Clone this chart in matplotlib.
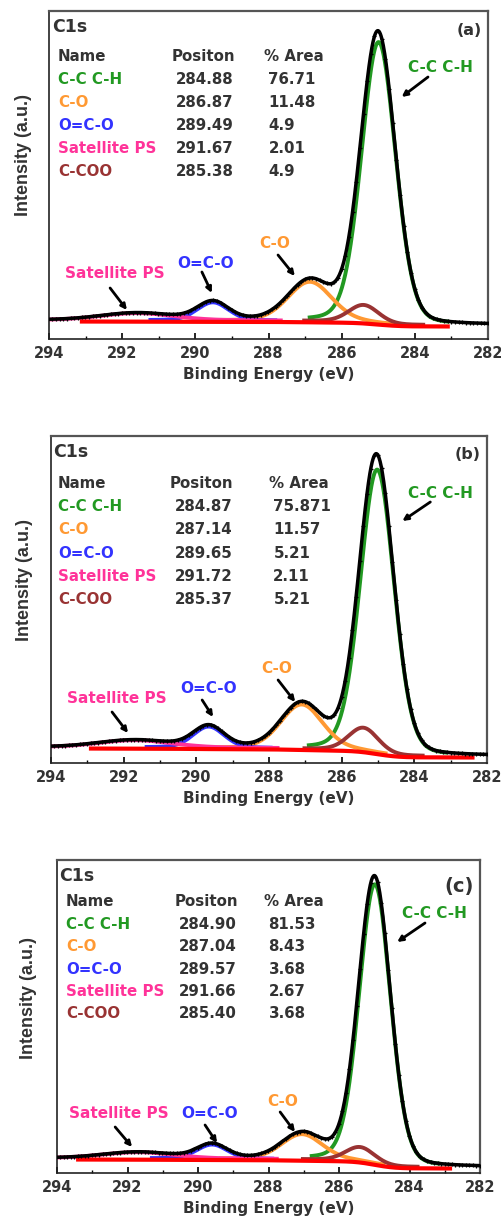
import numpy as np
import matplotlib
matplotlib.use("Agg")
import matplotlib.pyplot as plt
from matplotlib.ticker import MultipleLocator

# C1s XPS fits, three samples (a), (b), (c)

panel_tags = ["(a)", "(b)", "(c)"]
names = ["C-C C-H", "C-O", "O=C-O", "Satellite PS", "C-COO"]
name_colors = ["#229922", "#ff9933", "#3333ff", "#ff3399", "#993333"]

# table text as printed in each panel
tab_pos = [["284.88", "286.87", "289.49", "291.67", "285.38"],
           ["284.87", "287.14", "289.65", "291.72", "285.37"],
           ["284.90", "287.04", "289.57", "291.66", "285.40"]]
tab_area = [["76.71", "11.48", "4.9", "2.01", "4.9"],
            ["75.871", "11.57", "5.21", "2.11", "5.21"],
            ["81.53", "8.43", "3.68", "2.67", "3.68"]]

# fitted components: centre (eV), height, fwhm (eV)
centers = [[284.99, 286.87, 289.52, 291.6, 285.40],
           [285.02, 287.10, 289.66, 291.7, 285.40],
           [284.98, 287.05, 289.60, 291.7, 285.40]]
heights = [[281, 39, 18, 7, 17],
           [283, 44, 21, 7, 23],
           [279, 25, 14, 6, 14]]
fwhms = [[1.10, 1.40, 1.00, 2.3, 0.95],
         [1.10, 1.35, 1.00, 2.3, 0.95],
         [1.05, 1.35, 1.00, 2.3, 0.95]]

# shirley background ends (high BE side, low BE side) and drawn range
bg_high = [19, 16, 15]
bg_low = [14, 7, 6]
bg_range = [(293.1, 283.1), (292.9, 282.4), (293.4, 282.85)]

# annotation labels: (text x, text y, arrow tail x, y, arrow head x, y)
annots = [
    [(283.29, 271, 283.64, 262, 284.36, 242),
     (287.83, 96, 287.74, 84, 287.28, 63),
     (289.71, 75, 289.82, 67, 289.55, 46),
     (292.20, 65, 292.33, 51, 291.87, 29)],
    [(283.28, 270, 283.56, 261, 284.33, 242),
     (287.80, 95, 287.75, 83, 287.28, 61),
     (289.67, 75, 289.84, 63, 289.54, 46),
     (292.20, 65, 292.32, 51, 291.88, 30)],
    [(283.30, 260, 283.56, 250, 284.35, 231),
     (287.60, 71, 287.67, 61, 287.25, 41),
     (289.66, 60, 289.80, 48, 289.46, 30),
     (292.24, 60, 292.35, 46, 291.87, 26)],
]

# axes boxes in pixels: left, top, right, bottom
boxes = [(49, 11, 488, 339), (51, 436, 487, 763), (57, 860, 480, 1173)]
# table anchors in axes fraction: name x, pos x, area x, header y, row step
tab_xy = [(0.02, 0.28, 0.49, 0.86, 0.070),
          (0.016, 0.273, 0.50, 0.856, 0.0715),
          (0.021, 0.279, 0.49, 0.866, 0.0716)]
ylab_x = [-0.039, -0.041, -0.047]

W, H = 502, 1228
fig = plt.figure(figsize=(W / 100, H / 100), dpi=100)
plt.rcParams['font.family'] = ['DejaVu Sans']


def gl(x, c, h, w, eta=0.15):
    s = w / 2.3548
    g = np.exp(-(x - c) ** 2 / (2 * s * s))
    l = 1.0 / (1.0 + ((x - c) / (w / 2)) ** 2)
    return h * ((1 - eta) * g + eta * l)


x = np.linspace(282, 294, 1200)
dark = "#333333"

for i in range(3):
    l, t, r, b = boxes[i]
    ax = fig.add_axes([l / W, 1 - b / H, (r - l) / W, (b - t) / H])
    ymax = b - t

    comps = [gl(x, centers[i][k], heights[i][k], fwhms[i][k]) for k in range(5)]
    tot = np.sum(comps, axis=0)
    cum = np.cumsum(tot)
    bg = bg_low[i] + (bg_high[i] - bg_low[i]) * cum / cum[-1]
    data = bg + tot

    for k in range(5):
        m = comps[k] > 0.012 * heights[i][k]
        ax.plot(x[m], bg[m] + comps[k][m], color=name_colors[k], lw=2.8, zorder=2)
    ax.plot(x, data, color="black", lw=2.5, zorder=3)
    ax.plot(x[::10], data[::10], "+", color="black", ms=3.5, mew=0.9, zorder=3)
    lo, hi = bg_range[i][1], bg_range[i][0]
    m = (x >= lo) & (x <= hi)
    ax.plot(x[m], bg[m] - 1.5, color="#ff0000", lw=3, zorder=2.5)

    ax.set_xlim(294, 282)
    ax.set_ylim(0, ymax)
    ax.set_yticks([])
    ax.xaxis.set_major_locator(MultipleLocator(2))
    ax.xaxis.set_minor_locator(MultipleLocator(1))
    ax.tick_params(axis="x", which="major", direction="in", length=4, width=1.2,
                   labelsize=10.5, labelcolor=dark, pad=5)
    ax.tick_params(axis="x", which="minor", direction="in", length=2.5, width=1)
    for lab in ax.get_xticklabels():
        lab.set_fontweight("bold")
    for sp in ["top", "right"]:
        ax.spines[sp].set_color("#555555")
        ax.spines[sp].set_linewidth(1.6)
    for sp in ["left", "bottom"]:
        ax.spines[sp].set_color("#222222")
        ax.spines[sp].set_linewidth(1.2)

    ax.set_xlabel("Binding Energy (eV)", fontsize=11, fontweight="bold",
                  color=dark, labelpad=4)
    ax.set_ylabel("Intensity (a.u.)", fontsize=13, fontweight="bold",
                  family=["Liberation Sans"], color=dark)
    ax.yaxis.set_label_coords(ylab_x[i], 0.56)

    ax.text(0.006, 0.95, "C1s", transform=ax.transAxes, fontsize=12.5,
            fontweight="bold", color=dark, va="center", ha="left")
    tag_size = 14 if i == 2 else 11.5
    tag_y = 0.915 if i == 2 else 0.942
    ax.text(0.985, tag_y, panel_tags[i], transform=ax.transAxes, fontsize=tag_size,
            fontweight="bold", color=dark, va="center", ha="right")

    nx, px, axx, y0, dy = tab_xy[i]
    kw = dict(transform=ax.transAxes, fontsize=10.8, fontweight="bold", va="center")
    ax.text(nx, y0, "Name", color=dark, **kw)
    ax.text(px, y0, "Positon", color=dark, **kw)
    ax.text(axx, y0, "% Area", color=dark, **kw)
    for k in range(5):
        yy = y0 - (k + 1) * dy
        ax.text(nx, yy, names[k], color=name_colors[k], **kw)
        ax.text(px + 0.01, yy, tab_pos[i][k], color=dark, **kw)
        ax.text(axx + 0.01, yy, tab_area[i][k], color=dark, **kw)

    for k in range(4):
        tx, ty, ax0, ay0, ax1, ay1 = annots[i][k]
        ax.text(tx, ty, names[k], color=name_colors[k], fontsize=11,
                fontweight="bold", ha="center", va="center", zorder=5)
        ax.annotate("", xy=(ax1, ay1), xytext=(ax0, ay0),
                    arrowprops=dict(arrowstyle="-|>", color="black", lw=2,
                                    mutation_scale=8, shrinkA=0, shrinkB=0),
                    zorder=5)

fig.savefig("out.png", dpi=100)
